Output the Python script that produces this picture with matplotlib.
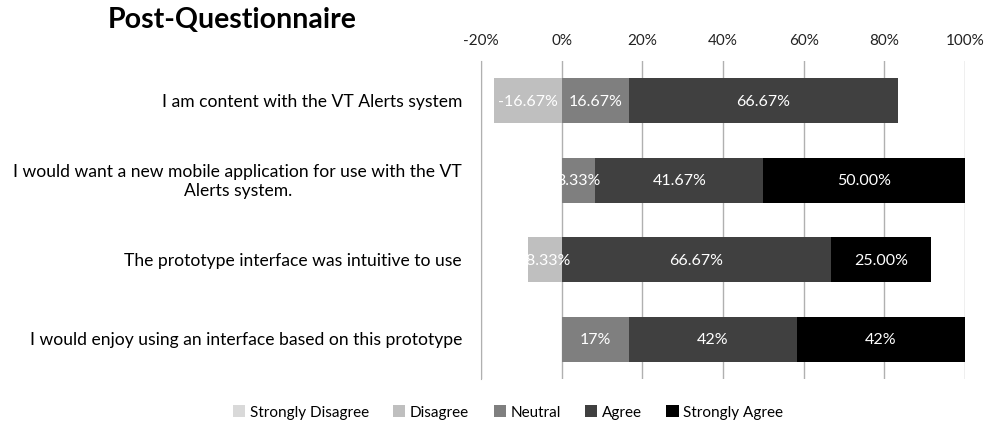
import numpy as np
import matplotlib.pyplot as plt

plt.rcParams['font.family'] = ['Lato', 'DejaVu Sans']

# ================= DATA =================
questions = [
    "I am content with the VT Alerts system",
    "I would want a new mobile application for use with the VT\nAlerts system.",
    "The prototype interface was intuitive to use",
    "I would enjoy using an interface based on this prototype",
]
series_names = ["Strongly Disagree", "Disagree", "Neutral", "Agree", "Strongly Agree"]
strongly_disagree = [0.0, 0.0, 0.0, 0.0]
disagree = [-16.67, 0.0, -8.33, 0.0]
neutral = [16.67, 8.33, 0.0, 16.67]
agree = [66.67, 41.67, 66.67, 41.67]
strongly_agree = [0.0, 50.00, 25.00, 41.67]
# last row is labelled without decimals in the original
label_fmt = ["{:.2f}%", "{:.2f}%", "{:.2f}%", "{:.0f}%"]
colors = ["#d9d9d9", "#bfbfbf", "#7f7f7f", "#404040", "#000000"]
# ========================================

fig = plt.figure(figsize=(9.9, 4.27), dpi=100)
ax = fig.add_axes([481 / 990, 47 / 427, 484 / 990, 318 / 427])

y = np.arange(len(questions))
bar_h = 0.56

# negative values stack leftward from 0, positive ones rightward
neg_left = np.zeros(len(questions))
pos_left = np.zeros(len(questions))
all_series = [strongly_disagree, disagree, neutral, agree, strongly_agree]
for name, vals, col in zip(series_names, all_series, colors):
    vals = np.array(vals)
    lefts = np.where(vals < 0, neg_left, pos_left)
    ax.barh(y, vals, left=lefts, height=bar_h, color=col, label=name)
    for i, v in enumerate(vals):
        if v == 0:
            continue
        cx = lefts[i] + v / 2
        ax.text(cx, y[i], label_fmt[i].format(v), ha='center', va='center',
                color='white', fontsize=11.5)
    neg_left = neg_left + np.where(vals < 0, vals, 0)
    pos_left = pos_left + np.where(vals > 0, vals, 0)

ax.set_xlim(-20, 100)
ax.set_ylim(len(questions) - 0.5, -0.5)
ax.set_xticks(np.arange(-20, 101, 20))
ax.set_xticklabels([f"{t}%" for t in range(-20, 101, 20)])
ax.xaxis.tick_top()
ax.tick_params(axis='x', length=0, pad=10, labelsize=11, colors='#222222')

# category labels drawn as text so the wrapped one can be centred
ax.set_yticks(y)
ax.set_yticklabels([])
ax.tick_params(axis='y', length=0)
for yi, q in zip(y, questions):
    ax.text(-19 / 484, yi, q, transform=ax.get_yaxis_transform(),
            ha='right', va='center', multialignment='center', fontsize=12.6)

ax.grid(axis='x', color='#b0b0b0', linewidth=1)
ax.set_axisbelow(True)
for s in ['top', 'right', 'bottom']:
    ax.spines[s].set_visible(False)
ax.spines['left'].set_color('#b0b0b0')

fig.text(108 / 990, 1 - 20 / 427, "Post-Questionnaire", fontsize=20.5,
         fontweight='bold', va='center', ha='left')

fig.legend(loc='center', bbox_to_anchor=(508 / 990, 14 / 427),
           ncol=5, frameon=False, fontsize=11, handlelength=0.8,
           handleheight=0.8, handletextpad=0.3, columnspacing=1.6)

fig.savefig("out.png", dpi=100)
